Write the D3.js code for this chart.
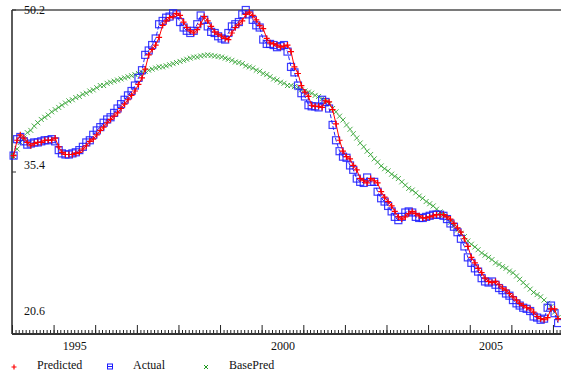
<!DOCTYPE html>
<html>
<head>
<meta charset="utf-8">
<script src="https://cdn.jsdelivr.net/npm/d3@7"></script>
<style>
  html, body { margin: 0; padding: 0; background: #fff; }
  svg { display: block; }
  text { font-family: "Liberation Serif", "Times New Roman", serif; font-size: 12px; fill: #111; }
</style>
</head>
<body>
<svg id="chart" width="561" height="377"></svg>
<script>
// Monthly series, January 1994 through February 2007
const firstYear = 1994, firstMonth = 0;

const actual = [
  36.9, 38.4, 38.6, 38.2, 37.9, 38.0, 38.1, 38.1, 38.2, 38.3, 38.3, 38.4,
  38.2, 37.4, 37.1, 37.0, 37.0, 37.1, 37.2, 37.4, 37.7, 38.1, 38.3, 38.8,
  39.2, 39.5, 39.9, 40.2, 40.4, 40.8, 41.2, 41.6, 42.0, 42.4, 42.8, 43.3,
  44.0, 44.7, 46.1, 46.5, 47.0, 47.6, 48.9, 49.2, 49.5, 49.6, 49.9, 49.8,
  49.1, 48.6, 48.3, 48.1, 48.3, 48.9, 49.7, 49.3, 48.7, 48.2, 48.1, 47.8,
  47.6, 47.5, 48.1, 48.7, 48.9, 49.1, 49.8, 50.2, 49.8, 49.3, 48.8, 48.6,
  47.5, 47.1, 47.1, 47.0, 46.8, 46.9, 47.0, 46.4, 45.0, 44.5, 43.3, 42.6,
  42.3, 41.5, 41.4, 41.4, 41.3, 42.0, 41.8, 41.2, 39.7, 38.3, 37.3, 36.8,
  36.7, 36.0, 35.6, 34.8, 34.5, 34.4, 34.9, 34.5, 34.5, 33.6, 33.0, 32.7,
  32.3, 31.8, 31.3, 31.0, 31.3, 31.7, 31.8, 31.7, 31.3, 31.2, 31.2, 31.3,
  31.4, 31.5, 31.5, 31.5, 31.4, 31.1, 30.7, 30.4, 29.9, 29.3, 28.6, 27.6,
  27.1, 26.6, 26.3, 25.7, 25.4, 25.3, 25.4, 25.1, 24.8, 24.6, 24.3, 24.1,
  23.7, 23.4, 23.2, 23.0, 22.9, 22.7, 22.2, 22.1, 21.9, 22.0, 23.0, 23.2,
  22.5, 21.6
];

const predicted = [
  36.9, 38.3, 38.8, 38.5, 38.1, 37.8, 38.0, 38.1, 38.1, 38.3, 38.3, 38.3,
  38.5, 37.7, 37.2, 37.0, 37.0, 37.0, 37.1, 37.2, 37.5, 37.8, 38.2, 38.4,
  38.8, 39.2, 39.5, 39.9, 40.2, 40.5, 40.8, 41.2, 41.6, 42.0, 42.4, 42.8,
  43.4, 44.0, 44.8, 46.1, 46.6, 47.0, 47.7, 48.8, 49.2, 49.5, 49.6, 49.9,
  49.7, 49.1, 48.6, 48.3, 48.1, 48.4, 48.9, 49.6, 49.2, 48.7, 48.2, 48.0,
  47.8, 47.6, 47.5, 48.1, 48.6, 48.9, 49.2, 49.8, 50.0, 49.7, 49.3, 48.8,
  48.5, 47.6, 47.2, 47.1, 47.0, 46.8, 46.9, 47.0, 46.4, 45.0, 44.4, 43.3,
  42.7, 42.3, 41.5, 41.4, 41.4, 41.3, 41.9, 41.8, 41.1, 39.8, 38.3, 37.3,
  36.8, 36.6, 36.0, 35.6, 34.8, 34.6, 34.4, 34.8, 34.6, 34.4, 33.6, 33.1,
  32.7, 32.3, 31.8, 31.3, 31.1, 31.3, 31.6, 31.8, 31.6, 31.4, 31.2, 31.2,
  31.3, 31.4, 31.5, 31.5, 31.5, 31.3, 31.1, 30.7, 30.3, 29.9, 29.3, 28.6,
  27.6, 27.1, 26.6, 26.2, 25.7, 25.4, 25.3, 25.4, 25.1, 24.8, 24.6, 24.3,
  24.0, 23.7, 23.4, 23.2, 23.0, 22.9, 22.6, 22.2, 22.0, 21.9, 22.1, 22.9,
  22.9, 22.0
];

const basePred = [
  36.8, 37.5, 38.1, 38.5, 39.0, 39.2, 39.6, 39.9, 40.2, 40.4, 40.6, 40.9,
  41.1, 41.3, 41.5, 41.7, 41.9, 42.0, 42.2, 42.3, 42.5, 42.6, 42.8, 42.9,
  43.1, 43.3, 43.3, 43.5, 43.6, 43.7, 43.8, 43.9, 44.0, 44.1, 44.2, 44.3,
  44.4, 44.5, 44.6, 44.7, 44.8, 44.9, 45.0, 45.0, 45.1, 45.2, 45.3, 45.4,
  45.5, 45.6, 45.7, 45.8, 45.9, 45.9, 46.0, 46.05, 46.1, 46.05, 46.0, 45.95,
  45.9, 45.8, 45.7, 45.6, 45.45, 45.4, 45.3, 45.1, 45.0, 44.9, 44.7, 44.6,
  44.4, 44.3, 44.1, 43.9, 43.8, 43.6, 43.5, 43.3, 43.3, 43.2, 43.1, 42.9,
  42.8, 42.7, 42.6, 42.4, 42.3, 42.1, 41.9, 41.6, 41.2, 40.9, 40.5, 40.15,
  39.7, 39.3, 38.9, 38.5, 38.05, 37.7, 37.3, 37.0, 36.6, 36.3, 35.95, 35.7,
  35.5, 35.2, 35.0, 34.8, 34.5, 34.2, 33.9, 33.75, 33.5, 33.2, 33.0, 32.7,
  32.5, 32.3, 32.0, 31.75, 31.5, 31.2, 30.8, 30.5, 30.1, 29.8, 29.5, 29.1,
  28.8, 28.55, 28.3, 28.0, 27.8, 27.6, 27.4, 27.1, 26.95, 26.75, 26.6, 26.35,
  26.2, 25.9, 25.6, 25.3, 25.0, 24.7, 24.4, 24.2, 24.0, 23.7, 23.4, 23.1,
  22.6, 22.1
];

const yTicks = [20.6, 35.4, 50.2];
const labelYears = [1995, 2000, 2005];
const seriesNames = ["Predicted", "Actual", "BasePred"];

// Observations are placed mid-month
const dates = actual.map((_, i) => new Date(firstYear, firstMonth + i, 15));

const svg = d3.select("#chart");
const plotLeft = 12, plotTop = 10, plotBottom = 334, plotRight = 561;
const pxPerYear = 41.6;

const x = d3.scaleTime()
  .domain([new Date(1994, 0, 1), new Date(2007, 3, 1)])
  .range([plotLeft, plotLeft + pxPerYear * 13.25]);

const y = d3.scaleLinear()
  .domain([yTicks[0], yTicks[yTicks.length - 1]])
  .range([plotBottom, plotTop]);

// Frame: top border and left axis line
svg.append("line")
  .attr("x1", plotLeft).attr("x2", plotRight)
  .attr("y1", plotTop).attr("y2", plotTop)
  .attr("stroke", "#7a7a7a").attr("stroke-width", 2);

svg.append("line")
  .attr("x1", plotLeft).attr("x2", plotLeft)
  .attr("y1", plotTop).attr("y2", plotBottom)
  .attr("stroke", "#333").attr("stroke-width", 1.6);

// Bottom axis: monthly minor ticks, yearly major ticks, pointing up
const xMinor = d3.axisBottom(x)
  .ticks(d3.timeMonth.every(1))
  .tickSize(-4)
  .tickFormat("");
const gMinor = svg.append("g").attr("transform", `translate(0,${plotBottom})`).call(xMinor);

const xMajor = d3.axisBottom(x)
  .ticks(d3.timeYear.every(1))
  .tickSize(-9)
  .tickFormat("");
const gMajor = svg.append("g").attr("transform", `translate(0,${plotBottom})`).call(xMajor);

[gMinor, gMajor].forEach(g => {
  g.select(".domain").remove();
  g.selectAll(".tick line").attr("stroke", "#222").attr("stroke-width", 1);
});

svg.append("line")
  .attr("x1", plotLeft).attr("x2", plotRight)
  .attr("y1", plotBottom).attr("y2", plotBottom)
  .attr("stroke", "#333").attr("stroke-width", 2);

// Year labels sit in the middle of each year
const xLabels = d3.axisBottom(x)
  .tickValues(labelYears.map(yr => new Date(yr, 6, 2)))
  .tickSize(0)
  .tickPadding(0)
  .tickFormat(d3.timeFormat("%Y"));
const gLabels = svg.append("g").attr("transform", `translate(0,${plotBottom})`).call(xLabels);
gLabels.attr("font-family", null).attr("font-size", null);
gLabels.select(".domain").remove();
gLabels.selectAll("text")
  .attr("y", 16).attr("dy", 0)
  .style("font-family", "'Liberation Serif', serif")
  .style("font-size", "12px")
  .attr("fill", "#111");

// Left axis: value labels drawn inside the plot, above each tick
svg.selectAll(".ytick")
  .data(yTicks)
  .join("line")
  .attr("class", "ytick")
  .attr("x1", plotLeft).attr("x2", plotLeft + 4)
  .attr("y1", d => y(d)).attr("y2", d => y(d))
  .attr("stroke", "#333");

const yLabelOffset = [-19, -3, 4];
svg.selectAll(".ylabel")
  .data(yTicks)
  .join("text")
  .attr("class", "ylabel")
  .attr("x", plotLeft + 12)
  .attr("y", (d, i) => y(d) + yLabelOffset[i])
  .text(d => d.toFixed(1));

const plot = svg.append("g");

// BasePred: x markers only
const xMark = (sel, s) => sel.attr("d", `M${-s},${-s}L${s},${s}M${-s},${s}L${s},${-s}`);
plot.append("g")
  .selectAll("path")
  .data(basePred)
  .join("path")
  .attr("transform", (d, i) => `translate(${x(dates[i])},${y(d)})`)
  .call(xMark, 2.5)
  .attr("fill", "none")
  .attr("stroke", "#1e9a1e")
  .attr("stroke-width", 1)
  .attr("opacity", 0.8);

// Actual: dashed blue line with open squares
const line = d3.line().x((d, i) => x(dates[i])).y(d => y(d));
plot.append("path")
  .datum(actual)
  .attr("d", line)
  .attr("fill", "none")
  .attr("stroke", "#2020ff")
  .attr("stroke-width", 1)
  .attr("stroke-dasharray", "4,2");

plot.append("g")
  .selectAll("rect")
  .data(actual)
  .join("rect")
  .attr("x", (d, i) => x(dates[i]) - 3.5)
  .attr("y", d => y(d) - 3.5)
  .attr("width", 7).attr("height", 7)
  .attr("fill", "none")
  .attr("stroke", "#1a1aff")
  .attr("stroke-width", 1.2)
  .attr("opacity", 0.85);

// Predicted: solid red line with plus markers
plot.append("path")
  .datum(predicted)
  .attr("d", line)
  .attr("fill", "none")
  .attr("stroke", "#ff0000")
  .attr("stroke-width", 1);

const plusMark = (sel, s) => sel.attr("d", `M${-s},0L${s},0M0,${-s}L0,${s}`);
plot.append("g")
  .selectAll("path")
  .data(predicted)
  .join("path")
  .attr("transform", (d, i) => `translate(${x(dates[i])},${y(d)})`)
  .call(plusMark, 3)
  .attr("fill", "none")
  .attr("stroke", "#ff0000")
  .attr("stroke-width", 1.2);

// Legend
const legendY = 365;
const legendItems = [
  { name: seriesNames[0], mx: 14, tx: 37 },
  { name: seriesNames[1], mx: 110, tx: 133 },
  { name: seriesNames[2], mx: 206, tx: 229 }
];
const lg = svg.append("g");
lg.append("path")
  .attr("transform", `translate(${legendItems[0].mx},${legendY + 2})`)
  .call(plusMark, 2.5)
  .attr("stroke", "#ff0000").attr("stroke-width", 1.2).attr("fill", "none");
lg.append("rect")
  .attr("x", legendItems[1].mx - 2.5).attr("y", legendY - 1)
  .attr("width", 5).attr("height", 5)
  .attr("fill", "none").attr("stroke", "#1a1aff").attr("stroke-width", 1);
lg.append("line")
  .attr("x1", legendItems[1].mx - 2.5).attr("x2", legendItems[1].mx + 2.5)
  .attr("y1", legendY + 1.5).attr("y2", legendY + 1.5)
  .attr("stroke", "#1a1aff").attr("stroke-width", 1);
lg.append("path")
  .attr("transform", `translate(${legendItems[2].mx},${legendY + 2})`)
  .call(xMark, 2)
  .attr("stroke", "#1f9a1f").attr("stroke-width", 1).attr("fill", "none");
lg.selectAll("text")
  .data(legendItems)
  .join("text")
  .attr("x", d => d.tx)
  .attr("y", legendY + 4)
  .text(d => d.name);
</script>
</body>
</html>
